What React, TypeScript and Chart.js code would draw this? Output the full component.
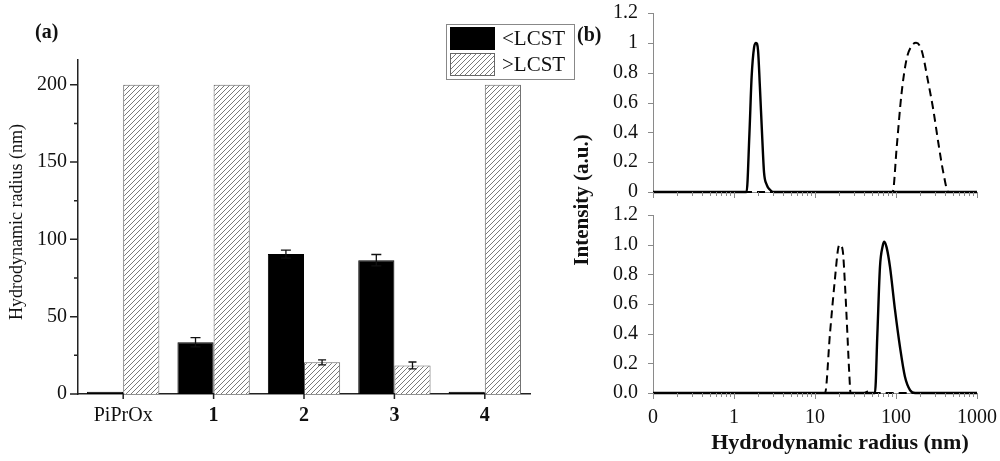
import React, { useEffect, useRef } from 'react';
import { Chart, registerables } from 'chart.js';

Chart.register(...registerables);

const W = 1000;
const H = 461;
const SERIF = "'Liberation Serif', 'Times New Roman', serif";

// ---------- panel (a) data ----------
const categories = ['PiPrOx', '1', '2', '3', '4'];
const belowLCST = [1.5, 33.5, 90.5, 86.5, 1.5];
const belowErr = [0, 3.0, 2.6, 3.7, 0];
const aboveLCST = [200, 200, 20.5, 18.5, 200];
const aboveErr = [0, 0, 1.6, 2.2, 0];
const yTicksA = [0, 50, 100, 150, 200];
const yMinorA = [25, 75, 125, 175];

// ---------- panel (b) data ----------
const topSolidR = [0.1, 1.43, 1.55, 1.65, 1.77, 1.87, 1.98, 2.09, 2.22, 2.35, 2.53, 2.78, 3.06, 1000];
const topSolidI = [0, 0, 0.39, 0.77, 0.97, 1.0, 0.95, 0.7, 0.39, 0.13, 0.05, 0.015, 0, 0];
const topDashR = [0.1, 91, 102, 117, 135, 156, 177, 207, 251, 289, 333, 384, 443, 1000];
const topDashI = [0, 0, 0.3, 0.66, 0.89, 0.98, 1.0, 0.95, 0.73, 0.55, 0.33, 0.13, 0, 0];
const botSolidR = [0.1, 55, 58.9, 63.4, 68.4, 71.8, 76.7, 84.3, 97.2, 112, 129, 149, 172, 1000];
const botSolidI = [0, 0, 0.4, 0.85, 0.99, 1.02, 0.98, 0.85, 0.56, 0.31, 0.11, 0.02, 0, 0];
const botDashR = [0.1, 13.3, 15.3, 17.7, 19.4, 20.4, 22.0, 23.5, 25.1, 26.5, 27.5, 40, 45, 50, 1000];
const botDashI = [0, 0, 0.4, 0.78, 0.98, 1.0, 0.96, 0.72, 0.4, 0.13, 0, 0, 0.01, 0, 0];
const xMajorB = [0.1, 1, 10, 100, 1000];
const xMinorB = [0.1, 1, 10, 100].flatMap((d) => [2, 3, 4, 5, 6, 7, 8, 9].map((k) => k * d));
const yTicksB = [0, 0.2, 0.4, 0.6, 0.8, 1.0, 1.2];

const zip = (xs: number[], ys: number[]) => xs.map((x, i) => ({ x, y: ys[i] }));

function noPad(s: any) {
  s.paddingTop = 0;
  s.paddingBottom = 0;
  s.paddingLeft = 0;
  s.paddingRight = 0;
}

function makeHatch(): CanvasPattern | string {
  const t = document.createElement('canvas');
  t.width = 5;
  t.height = 5;
  const g = t.getContext('2d');
  if (!g) return '#ccc';
  g.fillStyle = '#fff';
  g.fillRect(0, 0, 5, 5);
  g.strokeStyle = '#6a6a6a';
  g.lineWidth = 0.9;
  g.beginPath();
  g.moveTo(0, 5);
  g.lineTo(5, 0);
  g.moveTo(-1, 1);
  g.lineTo(1, -1);
  g.moveTo(4, 6);
  g.lineTo(6, 4);
  g.stroke();
  return g.createPattern(t, 'repeat') || '#ccc';
}

function vText(ctx: CanvasRenderingContext2D, text: string, cx: number, cy: number, font: string) {
  ctx.save();
  ctx.translate(cx, cy);
  ctx.rotate(-Math.PI / 2);
  ctx.font = font;
  ctx.fillStyle = '#111';
  ctx.textAlign = 'center';
  ctx.textBaseline = 'middle';
  ctx.fillText(text, 0, 0);
  ctx.restore();
}

export default function App() {
  const aRef = useRef<HTMLCanvasElement>(null);
  const tRef = useRef<HTMLCanvasElement>(null);
  const bRef = useRef<HTMLCanvasElement>(null);

  useEffect(() => {
    document.body.style.margin = '0';
    const charts: Chart[] = [];
    const hatch = makeHatch();

    // ---------------- Panel (a) ----------------
    const leftPlugin = {
      id: 'leftDeco',
      afterDatasetsDraw(chart: any) {
        const ctx = chart.ctx as CanvasRenderingContext2D;
        const y = chart.scales.y;
        const sets: [number, number[], number][] = [
          [0, belowErr, 5],
          [1, aboveErr, 4],
        ];
        sets.forEach(([di, errs, cap]) => {
          const meta = chart.getDatasetMeta(di);
          meta.data.forEach((el: any, i: number) => {
            const e = errs[i];
            if (!e) return;
            const v = chart.data.datasets[di].data[i] as number;
            const x = el.x;
            const yt = y.getPixelForValue(v + e);
            const yb = y.getPixelForValue(v - e);
            ctx.save();
            ctx.strokeStyle = '#111';
            ctx.lineWidth = 1.3;
            ctx.beginPath();
            ctx.moveTo(x, yt);
            ctx.lineTo(x, yb);
            ctx.moveTo(x - cap, yt);
            ctx.lineTo(x + cap, yt);
            ctx.moveTo(x - cap, yb);
            ctx.lineTo(x + cap, yb);
            ctx.stroke();
            ctx.restore();
          });
        });
      },
      afterDraw(chart: any) {
        const ctx = chart.ctx as CanvasRenderingContext2D;
        const y = chart.scales.y;
        const x = chart.scales.x;
        ctx.save();
        ctx.strokeStyle = '#222';
        ctx.lineWidth = 1.5;
        ctx.beginPath();
        yTicksA.forEach((v) => {
          const p = y.getPixelForValue(v);
          ctx.moveTo(y.right - 8, p);
          ctx.lineTo(y.right, p);
        });
        yMinorA.forEach((v) => {
          const p = y.getPixelForValue(v);
          ctx.moveTo(y.right - 4, p);
          ctx.lineTo(y.right, p);
        });
        categories.forEach((_, i) => {
          const p = x.getPixelForValue(i);
          ctx.moveTo(p, x.top);
          ctx.lineTo(p, x.top + 5);
        });
        ctx.stroke();
        ctx.restore();

        // legend
        const ds = chart.data.datasets;
        ctx.save();
        ctx.strokeStyle = '#888';
        ctx.lineWidth = 1;
        ctx.strokeRect(446.5, 24.5, 128, 55);
        ctx.fillStyle = '#000';
        ctx.fillRect(450, 27, 45, 23);
        ctx.fillStyle = hatch as any;
        ctx.fillRect(450, 53, 45, 23);
        ctx.strokeStyle = '#666';
        ctx.strokeRect(450.5, 53.5, 44, 22);
        ctx.fillStyle = '#111';
        ctx.font = `21px ${SERIF}`;
        ctx.textAlign = 'left';
        ctx.textBaseline = 'middle';
        ctx.fillText(ds[0].label, 502, 39);
        ctx.fillText(ds[1].label, 502, 65);
        ctx.font = `bold 20px ${SERIF}`;
        ctx.fillText('(a)', 35, 33);
        ctx.restore();
        vText(ctx, 'Hydrodynamic radius (nm)', 17, 222, `18px ${SERIF}`);
      },
    };

    if (aRef.current) {
      charts.push(
        new Chart(aRef.current, {
          type: 'bar',
          data: {
            labels: categories,
            datasets: [
              { label: '<LCST', data: belowLCST, backgroundColor: '#000', borderColor: '#000', borderWidth: 1 },
              { label: '>LCST', data: aboveLCST, backgroundColor: hatch as any, borderColor: '#666', borderWidth: 1 },
            ],
          },
          options: {
            responsive: false,
            animation: false,
            events: [],
            layout: { autoPadding: false, padding: { left: 0, top: 60, right: 470, bottom: 0 } },
            plugins: { legend: { display: false }, tooltip: { enabled: false } },
            datasets: { bar: { categoryPercentage: 0.8, barPercentage: 1 } },
            scales: {
              x: {
                type: 'category',
                offset: true,
                grid: { display: false, drawTicks: false },
                border: { display: true, color: '#222', width: 1.5 },
                ticks: {
                  color: '#111',
                  padding: 10,
                  autoSkip: false,
                  maxRotation: 0,
                  font: (c: any) => ({ family: SERIF, size: 20, weight: c.index === 0 ? 'normal' : 'bold' }),
                },
                afterFit: (s: any) => {
                  s.height = 67;
                  noPad(s);
                },
              },
              y: {
                min: 0,
                max: 216,
                grid: { display: false, drawTicks: false },
                border: { display: true, color: '#222', width: 1.5 },
                ticks: { color: '#111', padding: 11, font: { family: SERIF, size: 20 } },
                afterBuildTicks: (s: any) => {
                  s.ticks = yTicksA.map((v) => ({ value: v }));
                },
                afterFit: (s: any) => {
                  s.width = 78;
                  noPad(s);
                },
              },
            },
          } as any,
          plugins: [leftPlugin],
        })
      );
    }

    // ---------------- Panel (b) ----------------
    const tickPlugin = {
      id: 'rightTicks',
      afterDraw(chart: any) {
        const ctx = chart.ctx as CanvasRenderingContext2D;
        const xs = chart.scales.x;
        const ys = chart.scales.y;
        ctx.save();
        ctx.strokeStyle = '#8a8a8a';
        ctx.lineWidth = 1;
        ctx.beginPath();
        xMinorB.forEach((v) => {
          const p = Math.round(xs.getPixelForValue(v)) + 0.5;
          ctx.moveTo(p, xs.top);
          ctx.lineTo(p, xs.top + 4);
        });
        xMajorB.forEach((v) => {
          const p = Math.round(xs.getPixelForValue(v)) + 0.5;
          ctx.moveTo(p, xs.top);
          ctx.lineTo(p, xs.top + 6);
        });
        yTicksB.forEach((v) => {
          const p = Math.round(ys.getPixelForValue(v)) + 0.5;
          ctx.moveTo(ys.right - 5, p);
          ctx.lineTo(ys.right, p);
        });
        ctx.stroke();
        ctx.restore();
      },
    };

    const bottomText = {
      id: 'bottomText',
      afterDraw(chart: any) {
        const ctx = chart.ctx as CanvasRenderingContext2D;
        ctx.save();
        ctx.fillStyle = '#111';
        ctx.font = `bold 20px ${SERIF}`;
        ctx.textAlign = 'left';
        ctx.textBaseline = 'middle';
        ctx.fillText('(b)', 577, 36);
        ctx.font = `bold 22px ${SERIF}`;
        ctx.textAlign = 'center';
        ctx.fillText('Hydrodynamic radius (nm)', 840, 443);
        ctx.restore();
        vText(ctx, 'Intensity (a.u.)', 583, 200, `bold 21px ${SERIF}`);
      },
    };

    const makeRight = (
      canvas: HTMLCanvasElement,
      solid: { x: number; y: number }[],
      dashed: { x: number; y: number }[],
      pad: { top: number; bottom: number },
      xHeight: number,
      showX: boolean,
      yLabel: (v: number) => string,
      extra: any[]
    ) =>
      new Chart(canvas, {
        type: 'line',
        data: {
          datasets: [
            {
              data: solid,
              borderColor: '#000',
              borderWidth: 2.4,
              pointRadius: 0,
              cubicInterpolationMode: 'monotone',
              fill: false,
              clip: 6,
            },
            {
              data: dashed,
              borderColor: '#000',
              borderWidth: 2,
              borderDash: [8, 5],
              pointRadius: 0,
              cubicInterpolationMode: 'monotone',
              fill: false,
              clip: 6,
            },
          ],
        },
        options: {
          responsive: false,
          animation: false,
          events: [],
          layout: { autoPadding: false, padding: { left: 593, right: 23, top: pad.top, bottom: pad.bottom } },
          plugins: { legend: { display: false }, tooltip: { enabled: false } },
          scales: {
            x: {
              type: 'logarithmic',
              min: 0.1,
              max: 1000,
              grid: { display: false, drawTicks: false },
              border: { display: true, color: '#8a8a8a', width: 1 },
              ticks: {
                display: showX,
                color: '#111',
                padding: 13,
                autoSkip: false,
                maxRotation: 0,
                font: { family: SERIF, size: 20 },
                callback: (v: any) => (Math.abs(Number(v) - 0.1) < 1e-9 ? '0' : String(Number(v))),
              },
              afterBuildTicks: (s: any) => {
                s.ticks = xMajorB.map((v) => ({ value: v }));
              },
              afterFit: (s: any) => {
                s.height = xHeight;
                noPad(s);
              },
            },
            y: {
              min: 0,
              max: 1.2,
              grid: { display: false, drawTicks: false },
              border: { display: true, color: '#8a8a8a', width: 1 },
              ticks: {
                color: '#111',
                padding: 15,
                font: { family: SERIF, size: 20 },
                callback: (v: any) => yLabel(Number(v)),
              },
              afterBuildTicks: (s: any) => {
                s.ticks = yTicksB.map((v) => ({ value: v }));
              },
              afterFit: (s: any) => {
                s.width = 60;
                noPad(s);
              },
            },
          },
        } as any,
        plugins: [tickPlugin, ...extra],
      });

    if (tRef.current) {
      charts.push(
        makeRight(
          tRef.current,
          zip(topSolidR, topSolidI),
          zip(topDashR, topDashI),
          { top: 13, bottom: H - 192 - 20 },
          20,
          false,
          (v) => String(Number(v.toFixed(1))),
          []
        )
      );
    }
    if (bRef.current) {
      charts.push(
        makeRight(
          bRef.current,
          zip(botSolidR, botSolidI),
          zip(botDashR, botDashI),
          { top: 215, bottom: 0 },
          68,
          true,
          (v) => v.toFixed(1),
          [bottomText]
        )
      );
    }

    return () => charts.forEach((c) => c.destroy());
  }, []);

  const cs: React.CSSProperties = { position: 'absolute', left: 0, top: 0, width: W, height: H };
  return (
    <div style={{ position: 'relative', width: W, height: H, background: '#fff', overflow: 'hidden' }}>
      <canvas ref={aRef} width={W} height={H} style={cs} />
      <canvas ref={bRef} width={W} height={H} style={cs} />
      <canvas ref={tRef} width={W} height={H} style={cs} />
    </div>
  );
}
